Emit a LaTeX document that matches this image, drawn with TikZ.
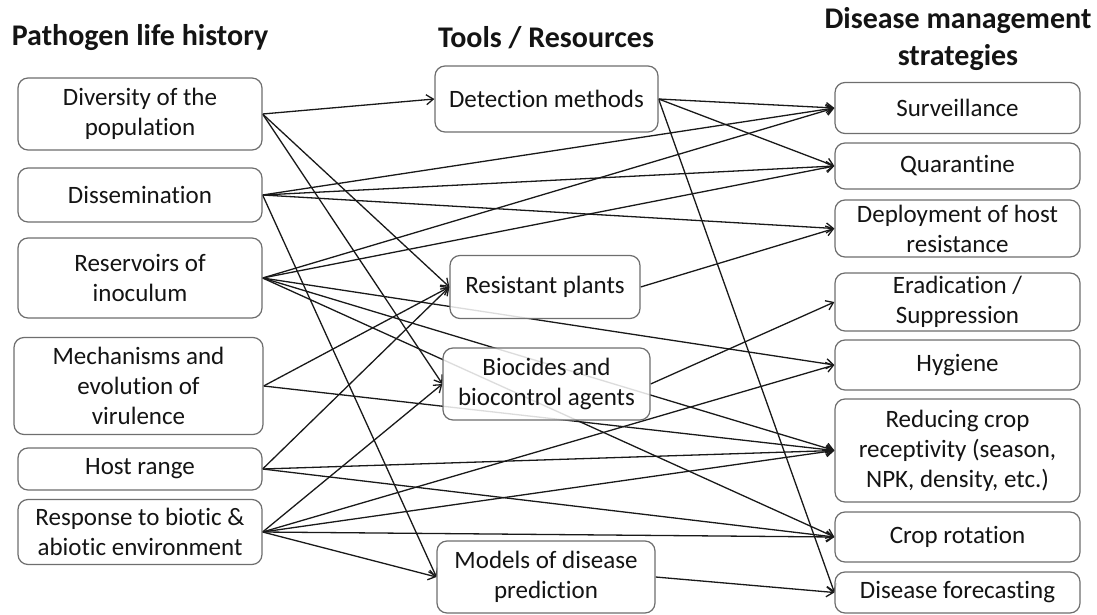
\documentclass[tikz,border=0pt]{standalone}
\usepackage{fontspec}
\setmainfont{Carlito}[Ligatures=NoCommon]
\usetikzlibrary{arrows.meta}
\pgfdeclarelayer{bg}
\pgfsetlayers{bg,main}
\definecolor{boxgray}{HTML}{6E6E6E}
\definecolor{txt}{HTML}{141414}
\begin{document}
\begin{tikzpicture}[x=1pt,y=-1pt,
  box/.style={draw=boxgray, line width=1.2pt, rounded corners=10pt, fill=white,
    fill opacity=0.85, text opacity=1, align=center, inner sep=0pt,
    font=\fontsize{25}{30}\selectfont, text=txt},
  head/.style={font=\bfseries\fontsize{30}{37}\selectfont, align=center, text=txt},
  link/.style={line width=1.3pt, draw=black!90},
  arr/.style={link, -{Straight Barb[length=7pt,width=10pt]}}]
\useasboundingbox (0,0) rectangle (1097,615);
% headings
\node[head] (h1) at (140,38) {Pathogen life history};
\node[head] (h2) at (546,38) {Tools / Resources};
\node[head] (h3) at (958,39) {Disease management\\strategies};
% left column
\node[box, minimum width=244pt, minimum height=72pt] (L1) at (140,114) {Diversity of the\\population};
\node[box, minimum width=244pt, minimum height=54pt] (L2) at (140,195) {Dissemination};
\node[box, minimum width=244pt, minimum height=80pt] (L3) at (140,278) {Reservoirs of\\inoculum};
\node[box, minimum width=249pt, minimum height=97pt] (L4) at (138.5,386) {Mechanisms and\\evolution of\\virulence};
\node[box, minimum width=244pt, minimum height=42pt] (L5) at (140,469) {Host range};
\node[box, minimum width=244pt, minimum height=65pt] (L6) at (140,532) {Response to biotic \&\\abiotic environment};
% middle column
\node[box, minimum width=223pt, minimum height=66pt] (M1) at (546.5,99) {Detection methods};
\node[box, minimum width=190pt, minimum height=63pt] (M2) at (545,287) {Resistant plants};
\node[box, minimum width=207pt, minimum height=72pt] (M3) at (546.5,384) {Biocides and\\biocontrol agents};
\node[box, minimum width=218pt, minimum height=72pt] (M4) at (546,577) {Models of disease\\prediction};
% right column
\node[box, minimum width=245pt, minimum height=51pt] (R1) at (957.5,108) {Surveillance};
\node[box, minimum width=245pt, minimum height=46pt] (R2) at (957.5,166) {Quarantine};
\node[box, minimum width=245pt, minimum height=57pt] (R3) at (957.5,228.5) {Deployment of host\\resistance};
\node[box, minimum width=245pt, minimum height=58pt] (R4) at (957.5,302) {Eradication /\\Suppression};
\node[box, minimum width=245pt, minimum height=50pt] (R5) at (957.5,365) {Hygiene};
\node[box, minimum width=245pt, minimum height=103pt] (R6) at (957.5,450.5) {Reducing crop\\receptivity (season,\\NPK, density, etc.)};
\node[box, minimum width=245pt, minimum height=50pt] (R7) at (957.5,537) {Crop rotation};
\node[box, minimum width=245pt, minimum height=41pt] (R8) at (957.5,592.5) {Disease forecasting};
% connectors
\begin{pgfonlayer}{bg}
\foreach \s/\t in {L1/M1, L1/M2, L1/M3,
                   L2/R1, L2/R2, L2/R3, L2/M4,
                   L3/R1, L3/R2, L3/R5, L3/R6, L3/R7,
                   L4/M2, L4/R6,
                   L5/M2, L5/R6, L5/R7,
                   L6/M3, L6/M4, L6/R5, L6/R6, L6/R7,
                   M1/R1, M1/R2, M1/R8,
                   M2/R3, M3/R4, M4/R8}
  \draw[arr] (\s.east) -- (\t.west);
\end{pgfonlayer}
\end{tikzpicture}
\end{document}
